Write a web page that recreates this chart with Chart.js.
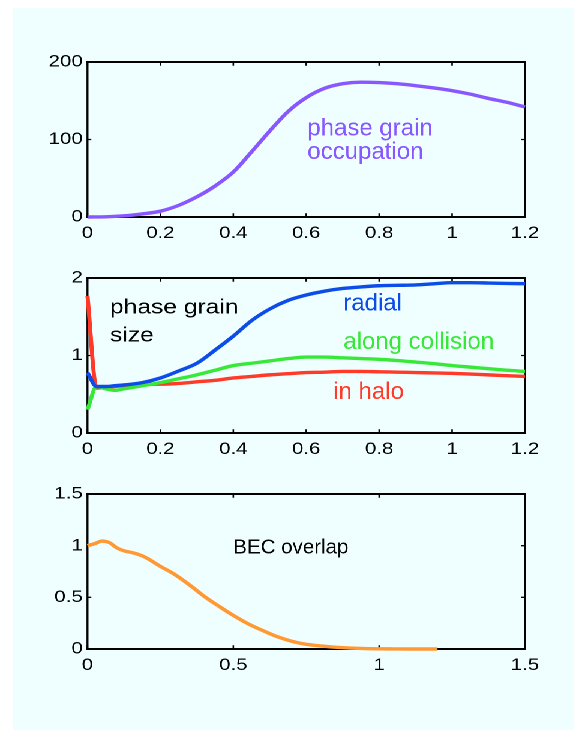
<!DOCTYPE html>
<html>
<head>
<meta charset="utf-8">
<script src="https://cdn.jsdelivr.net/npm/chart.js@4"></script>
<style>
  html, body { margin: 0; padding: 0; background: #ffffff; width: 574px; height: 732px; overflow: hidden; }
  #panel { position: absolute; left: 13px; top: 8px; width: 561px; height: 722px; background: #efffff; }
  #wrap { position: absolute; left: 0; top: 0; width: 479px; height: 732px; transform: scaleX(1.2); transform-origin: 0 0; }
  #wrap canvas { position: absolute; left: 0; }
</style>
</head>
<body>
<div id="panel"></div>
<div id="wrap">
  <canvas id="c1" width="479" height="220" style="top:32px"></canvas>
  <canvas id="c2" width="479" height="220" style="top:248.3px"></canvas>
  <canvas id="c3" width="479" height="220" style="top:464.3px"></canvas>
</div>
<script>
// ---- phase grain occupation ----
const occX = [0, 0.05, 0.1, 0.15, 0.2, 0.25, 0.3, 0.35, 0.4, 0.45, 0.5, 0.55, 0.6, 0.65, 0.7, 0.75, 0.8, 0.85, 0.9, 0.95, 1.0, 1.05, 1.1, 1.15, 1.2];
const occY = [0, 0.3, 1.5, 4, 7.5, 15, 26, 40, 58, 84, 111, 136, 154, 166, 172, 174, 173.5, 172, 169.5, 166.5, 163, 158.5, 153, 148, 142];

// ---- phase grain size ----
const sizeX = [0, 0.025, 0.05, 0.075, 0.1, 0.15, 0.2, 0.25, 0.3, 0.35, 0.4, 0.45, 0.5, 0.55, 0.6, 0.65, 0.7, 0.75, 0.8, 0.85, 0.9, 0.95, 1.0, 1.05, 1.1, 1.15, 1.2];
const radialY = [0.78, 0.60, 0.60, 0.61, 0.62, 0.65, 0.71, 0.80, 0.90, 1.07, 1.25, 1.45, 1.60, 1.71, 1.78, 1.83, 1.865, 1.885, 1.90, 1.905, 1.91, 1.925, 1.94, 1.94, 1.935, 1.93, 1.926];
const alongY = [0.30, 0.60, 0.57, 0.55, 0.57, 0.61, 0.65, 0.70, 0.75, 0.81, 0.87, 0.90, 0.93, 0.96, 0.98, 0.98, 0.97, 0.96, 0.95, 0.935, 0.915, 0.895, 0.87, 0.85, 0.83, 0.81, 0.795];
const haloY = [1.77, 0.58, 0.59, 0.60, 0.61, 0.63, 0.63, 0.64, 0.66, 0.68, 0.71, 0.73, 0.75, 0.765, 0.78, 0.785, 0.795, 0.795, 0.79, 0.785, 0.78, 0.775, 0.77, 0.76, 0.75, 0.74, 0.73];

// ---- BEC overlap ----
const overlapX = [0, 0.025, 0.05, 0.075, 0.1, 0.125, 0.15, 0.175, 0.2, 0.25, 0.3, 0.35, 0.4, 0.45, 0.5, 0.55, 0.6, 0.65, 0.7, 0.75, 0.8, 0.85, 0.9, 0.95, 1.0, 1.05, 1.1, 1.15, 1.2];
const overlapY = [1.00, 1.02, 1.045, 1.03, 0.98, 0.95, 0.935, 0.915, 0.885, 0.80, 0.72, 0.62, 0.51, 0.415, 0.325, 0.245, 0.18, 0.12, 0.075, 0.045, 0.03, 0.017, 0.009, 0.004, 0.002, 0.001, 0, 0, 0];

// ---- axis ticks ----
const xTicksA = [0, 0.2, 0.4, 0.6, 0.8, 1.0, 1.2];
const xLabelsA = ['0', '0.2', '0.4', '0.6', '0.8', '1', '1.2'];
const yTicksOcc = [0, 100, 200];
const yLabelsOcc = ['0', '100', '200'];
const yTicksSize = [0, 1, 2];
const yLabelsSize = ['0', '1', '2'];
const xTicksB = [0, 0.5, 1.0, 1.5];
const xLabelsB = ['0', '0.5', '1', '1.5'];
const yTicksOverlap = [0, 0.5, 1.0, 1.5];
const yLabelsOverlap = ['0', '0.5', '1', '1.5'];

const SX = 1.2;               // horizontal stretch of the figure
const FONT = '"Liberation Sans", Arial, Helvetica, sans-serif';

function pts(xs, ys) { return xs.map((x, i) => ({ x: x, y: ys[i] })); }

function lineSet(xs, ys, color) {
  return { data: pts(xs, ys), borderColor: color, borderWidth: 3.4, pointRadius: 0,
           fill: false, cubicInterpolationMode: 'monotone', clip: false,
           borderJoinStyle: 'round', borderCapStyle: 'butt' };
}

function axis(min, max, ticks, labels, isX) {
  return {
    type: 'linear', min: min, max: max,
    grid: { display: false, drawTicks: false },
    border: { display: false },
    afterBuildTicks: s => { s.ticks = ticks.map(v => ({ value: v })); },
    afterFit: s => { if (isX) s.height = 35; else s.width = 72.9; },
    ticks: {
      autoSkip: false, maxRotation: 0, color: '#000',
      font: { family: FONT, size: 17 },
      padding: isX ? 6 : 4,
      callback: (v, i) => labels[i]
    }
  };
}

// box with inward ticks on all four sides
const boxPlugin = {
  id: 'box',
  beforeDatasetsDraw(chart) {
    const a = chart.chartArea, ctx = chart.ctx;
    const xs = chart.scales.x, ys = chart.scales.y;
    ctx.save();
    ctx.strokeStyle = '#000';
    ctx.lineWidth = 1.3;
    xs.ticks.forEach(t => {
      const p = xs.getPixelForValue(t.value);
      ctx.beginPath();
      ctx.moveTo(p, a.bottom); ctx.lineTo(p, a.bottom - 3.8);
      ctx.moveTo(p, a.top); ctx.lineTo(p, a.top + 3.8);
      ctx.stroke();
    });
    ys.ticks.forEach(t => {
      const p = ys.getPixelForValue(t.value);
      ctx.beginPath();
      ctx.moveTo(a.left, p); ctx.lineTo(a.left + 3.2, p);
      ctx.moveTo(a.right, p); ctx.lineTo(a.right - 3.2, p);
      ctx.stroke();
    });
    ctx.lineWidth = 2;
    ctx.beginPath();
    ctx.moveTo(a.left - 0.9, a.top); ctx.lineTo(a.right + 0.9, a.top);
    ctx.moveTo(a.left - 0.9, a.bottom); ctx.lineTo(a.right + 0.9, a.bottom);
    ctx.stroke();
    ctx.lineWidth = 2 / SX;
    ctx.beginPath();
    ctx.moveTo(a.left, a.top); ctx.lineTo(a.left, a.bottom);
    ctx.moveTo(a.right, a.top); ctx.lineTo(a.right, a.bottom);
    ctx.stroke();
    ctx.restore();
  }
};

// text labels placed in data coordinates
const notePlugin = {
  id: 'notes',
  afterDatasetsDraw(chart, args, opts) {
    const ctx = chart.ctx, xs = chart.scales.x, ys = chart.scales.y;
    (opts.items || []).forEach(n => {
      ctx.save();
      ctx.translate(xs.getPixelForValue(n.x), ys.getPixelForValue(n.y));
      if (n.squash) ctx.scale(1 / SX, 1);
      ctx.font = n.size + 'px ' + FONT;
      ctx.fillStyle = n.color;
      ctx.textAlign = 'left';
      ctx.textBaseline = 'alphabetic';
      ctx.fillText(n.text, 0, 0);
      ctx.restore();
    });
  }
};

function make(id, datasets, xa, ya, notes) {
  return new Chart(document.getElementById(id), {
    type: 'line',
    data: { datasets: datasets },
    plugins: [boxPlugin, notePlugin],
    options: {
      responsive: false, animation: false, devicePixelRatio: 2,
      layout: { padding: { top: 30, left: 0, right: 479 - 437.5, bottom: 0 } },
      scales: { x: xa, y: ya },
      plugins: { legend: { display: false }, tooltip: { enabled: false }, notes: { items: notes } }
    }
  });
}

const PURPLE = '#8857ff', BLUE = '#0c4ce8', GREEN = '#38e838', RED = '#ff3a28', ORANGE = '#ff9933';

make('c1',
  [lineSet(occX, occY, PURPLE)],
  axis(0, 1.2, xTicksA, xLabelsA, true),
  axis(0, 200, yTicksOcc, yLabelsOcc, false),
  [
    { text: 'phase grain', x: 0.603, y: 105.3, size: 24, color: PURPLE, squash: true },
    { text: 'occupation', x: 0.603, y: 74.8, size: 24, color: PURPLE, squash: true }
  ]);

make('c2',
  [lineSet(sizeX, radialY, BLUE), lineSet(sizeX, alongY, GREEN), lineSet(sizeX, haloY, RED)],
  axis(0, 1.2, xTicksA, xLabelsA, true),
  axis(0, 2, yTicksSize, yLabelsSize, false),
  [
    { text: 'phase grain', x: 0.0617, y: 1.539, size: 20.5, color: '#000', squash: false },
    { text: 'size', x: 0.0617, y: 1.178, size: 20.5, color: '#000', squash: false },
    { text: 'radial', x: 0.7016, y: 1.582, size: 24, color: BLUE, squash: true },
    { text: 'along collision', x: 0.7016, y: 1.084, size: 24, color: GREEN, squash: true },
    { text: 'in halo', x: 0.674, y: 0.439, size: 24, color: RED, squash: true }
  ]);

make('c3',
  [lineSet(overlapX, overlapY, ORANGE)],
  axis(0, 1.5, xTicksB, xLabelsB, true),
  axis(0, 1.5, yTicksOverlap, yLabelsOverlap, false),
  [
    { text: 'BEC overlap', x: 0.5, y: 0.922, size: 20.5, color: '#000', squash: true }
  ]);
</script>
</body>
</html>
